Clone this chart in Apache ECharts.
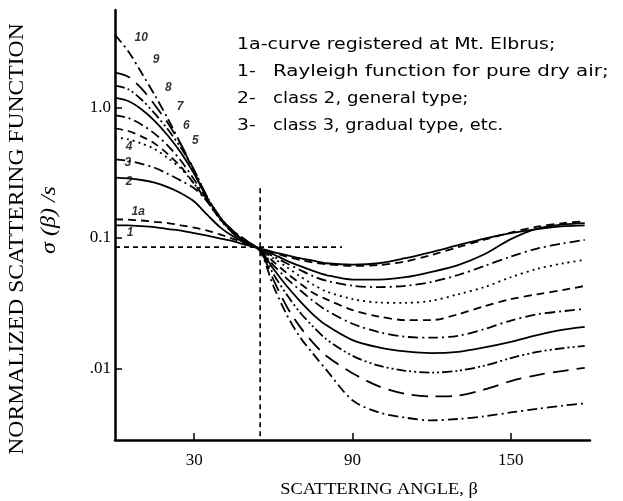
<!DOCTYPE html>
<html><head><meta charset="utf-8">
<script src="https://cdn.jsdelivr.net/npm/echarts@6/dist/echarts.min.js"></script>
<style>html,body{margin:0;padding:0;background:#fff}#c{width:623px;height:501px}</style>
</head><body><div id="c"></div>
<script>
// ---- data ----
const angles = [0,5,10,15,20,25,30,35,40,45,50,55,60,65,70,75,80,90,100,110,120,130,140,150,160,170,178];
const curve1  = [0.125,0.125,0.123,0.121,0.117,0.114,0.109,0.104,0.099,0.094,0.088,0.083,0.078,0.074,0.070,0.067,0.064,0.0625,0.064,0.070,0.078,0.088,0.099,0.109,0.117,0.123,0.125];
const curve1a = [0.139,0.138,0.136,0.133,0.130,0.125,0.120,0.114,0.106,0.098,0.090,0.083,0.077,0.072,0.068,0.065,0.063,0.061,0.062,0.066,0.074,0.085,0.097,0.110,0.122,0.130,0.134];
const curve2  = [0.29,0.286,0.278,0.265,0.245,0.22,0.19,0.15,0.12,0.102,0.090,0.083,0.075,0.067,0.061,0.056,0.052,0.048,0.048,0.050,0.055,0.062,0.075,0.098,0.118,0.127,0.130];
const curve3  = [0.40,0.39,0.37,0.345,0.31,0.275,0.24,0.19,0.14,0.107,0.090,0.082,0.072,0.064,0.057,0.051,0.047,0.043,0.042,0.043,0.046,0.052,0.061,0.072,0.083,0.091,0.0966];
const curve4  = [0.59,0.57,0.53,0.48,0.41,0.34,0.26,0.19,0.137,0.107,0.090,0.081,0.070,0.060,0.051,0.044,0.039,0.034,0.032,0.0318,0.033,0.037,0.042,0.050,0.058,0.064,0.0678];
const curve5  = [0.69,0.66,0.60,0.53,0.44,0.35,0.26,0.19,0.138,0.108,0.091,0.081,0.066,0.054,0.045,0.038,0.034,0.028,0.025,0.0235,0.0235,0.026,0.030,0.034,0.037,0.040,0.0429];
const curve6  = [0.87,0.83,0.74,0.63,0.51,0.39,0.28,0.195,0.14,0.109,0.092,0.081,0.062,0.049,0.040,0.033,0.028,0.022,0.0190,0.0175,0.0172,0.0178,0.020,0.0233,0.026,0.0275,0.0286];
const curve7  = [1.19,1.12,0.97,0.79,0.61,0.45,0.31,0.20,0.142,0.110,0.093,0.081,0.058,0.043,0.033,0.026,0.0215,0.0165,0.0145,0.0135,0.0131,0.0134,0.0145,0.016,0.018,0.0198,0.0208];
const curve8  = [1.47,1.38,1.15,0.90,0.68,0.49,0.33,0.205,0.143,0.111,0.094,0.081,0.053,0.037,0.027,0.021,0.0168,0.0125,0.0105,0.0096,0.0093,0.0096,0.0105,0.012,0.0134,0.0143,0.0149];
const curve9  = [1.85,1.72,1.40,1.05,0.76,0.52,0.33,0.205,0.142,0.112,0.094,0.080,0.048,0.030,0.021,0.0158,0.0125,0.0092,0.0073,0.0064,0.0061,0.0062,0.0069,0.0080,0.0089,0.0096,0.0101];
const curve10 = [3.6,2.7,1.85,1.25,0.82,0.52,0.32,0.20,0.14,0.112,0.095,0.079,0.043,0.026,0.0175,0.013,0.0098,0.0057,0.0046,0.0042,0.0040,0.0041,0.0043,0.0046,0.0049,0.0052,0.0054];

const xTickValues = [30, 90, 150];
const yTickValues = [0.01, 0.1, 1];
const yTickLabels = ['.01', '0.1', '1.0'];

// curve number labels: [angle, value, text]
const curveLabels = [
  [9.9, 3.41, '10'], [15.6, 2.31, '9'], [20.2, 1.41, '8'], [24.7, 1.01, '7'],
  [27.0, 0.73, '6'], [30.4, 0.56, '5'], [5.3, 0.50, '4'], [4.9, 0.376, '3'],
  [5.3, 0.269, '2'], [8.8, 0.158, '1a'], [5.7, 0.109, '1']
];
// dashed reference lines
const refVertical = [[55, 0.24], [55, 0.00283]];
const refHorizontal = [[0, 0.085], [86, 0.085]];

const legendLines = [
  ['1a-curve registered at Mt. Elbrus;', ''],
  ['1-', 'Rayleigh function for pure dry air;'],
  ['2-', 'class 2, general type;'],
  ['3-', 'class 3, gradual type, etc.']
];

// ---- styles ----
const dashStyles = {
  solid: 'solid',
  dashed: [8, 5],
  dotted: [2, 4],
  dashdot: [10, 4, 2, 4],
  dashdotdot: [10, 3, 2, 3, 2, 3],
  longdash: [16, 8]
};
const curves = [
  { name: '1', values: curve1, style: 'solid' },
  { name: '1a', values: curve1a, style: 'dashed' },
  { name: '2', values: curve2, style: 'solid' },
  { name: '3', values: curve3, style: 'dashdot' },
  { name: '4', values: curve4, style: 'dotted' },
  { name: '5', values: curve5, style: 'dashed' },
  { name: '6', values: curve6, style: 'dashdot' },
  { name: '7', values: curve7, style: 'solid' },
  { name: '8', values: curve8, style: 'dashdotdot' },
  { name: '9', values: curve9, style: 'longdash' },
  { name: '10', values: curve10, style: 'dashdot' }
];

const series = curves.map(c => ({
  type: 'line', name: c.name, silent: true, smooth: 0.3, symbol: 'none',
  data: angles.map((a, i) => [a, c.values[i]]),
  lineStyle: { color: '#000', width: 1.8, type: dashStyles[c.style] }
}));
series.push({
  type: 'line', silent: true, symbol: 'none', data: refVertical,
  lineStyle: { color: '#000', width: 1.6, type: [5, 4] }
});
series.push({
  type: 'line', silent: true, symbol: 'none', data: refHorizontal,
  lineStyle: { color: '#000', width: 1.6, type: [5, 4] }
});
series.push({
  type: 'scatter', silent: true, symbolSize: 0,
  data: curveLabels,
  label: {
    show: true, position: 'inside', formatter: p => p.data[2],
    color: '#000', fontSize: 12, fontWeight: 'bold', fontStyle: 'italic',
    fontFamily: 'Liberation Sans'
  }
});

const graphics = [
  { type: 'text', x: 18, y: 239, rotation: Math.PI / 2, scaleX: 1.18,
    style: { text: 'NORMALIZED SCATTERING FUNCTION', font: '20px "Liberation Serif"', fill: '#000', align: 'center', verticalAlign: 'middle' } },
  { type: 'text', x: 50, y: 220, rotation: Math.PI / 2, scaleX: 1.2,
    style: { text: 'σ (β) /s', font: 'italic 20px "Liberation Serif"', fill: '#000', align: 'center', verticalAlign: 'middle' } },
  { type: 'text', x: 379, y: 490, scaleX: 1.08,
    style: { text: 'SCATTERING ANGLE, β', font: '17px "Liberation Serif"', fill: '#000', align: 'center', verticalAlign: 'middle' } }
];
const legendY = [45, 72, 99, 126];
const legendScale = [1.185, 1.24, 1.135, 1.11];
legendLines.forEach((l, i) => {
  graphics.push({ type: 'text', x: 237, y: legendY[i], scaleX: l[1] ? 1.17 : legendScale[i],
    style: { text: l[0], font: '16px "DejaVu Sans"', fill: '#000', verticalAlign: 'middle' } });
  if (l[1]) graphics.push({ type: 'text', x: 273, y: legendY[i], scaleX: legendScale[i],
    style: { text: l[1], font: '16px "DejaVu Sans"', fill: '#000', verticalAlign: 'middle' } });
});

const chart = echarts.init(document.getElementById('c'), null, { renderer: 'canvas' });
chart.setOption({
  animation: false,
  backgroundColor: '#fff',
  grid: { left: 115, right: 33, top: 10, bottom: 61 },
  xAxis: {
    type: 'value', min: 0, max: 180,
    axisLine: { show: true, lineStyle: { color: '#000', width: 2.5 } },
    axisTick: { show: true, inside: true, length: 7, customValues: xTickValues, lineStyle: { color: '#000', width: 1.5 } },
    axisLabel: { show: true, customValues: xTickValues, color: '#000', fontSize: 17, fontFamily: 'Liberation Serif', margin: 12 },
    splitLine: { show: false }
  },
  yAxis: {
    type: 'log', logBase: 10, min: 0.00283, max: 5.58,
    axisLine: { show: true, lineStyle: { color: '#000', width: 2.5 } },
    axisTick: { show: true, inside: true, length: 7, customValues: yTickValues, lineStyle: { color: '#000', width: 1.5 } },
    axisLabel: { show: true, customValues: yTickValues, color: '#000', fontSize: 17, fontFamily: 'Liberation Serif', margin: 4,
      formatter: v => { const i = yTickValues.findIndex(t => Math.abs(Math.log10(t) - Math.log10(v)) < 1e-6); return i >= 0 ? yTickLabels[i] : ''; } },
    splitLine: { show: false }
  },
  graphic: graphics,
  series: series
});
</script></body></html>
